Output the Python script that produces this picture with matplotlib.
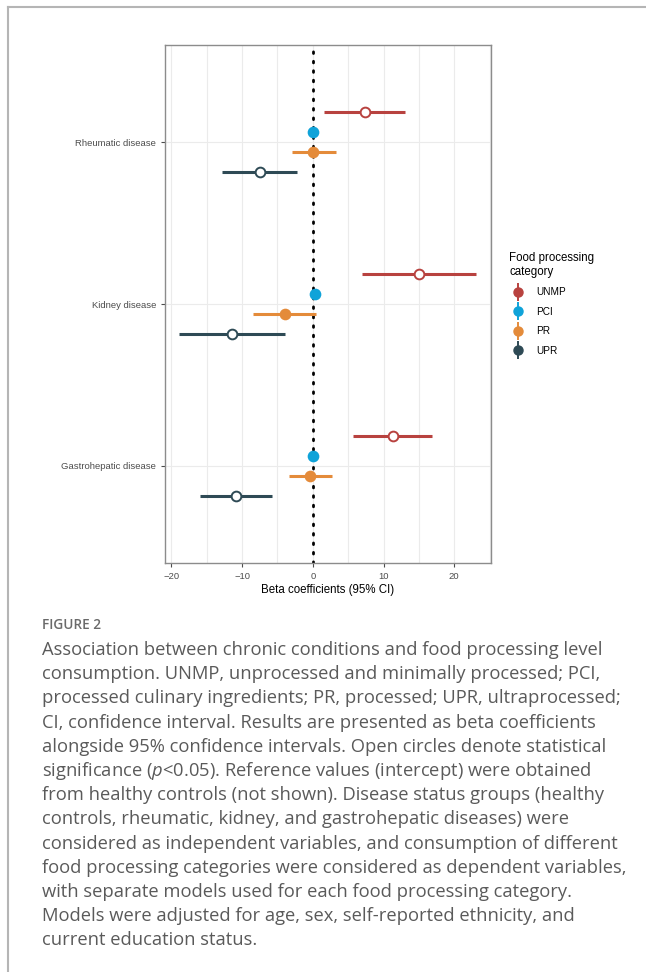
import numpy as np
import matplotlib.pyplot as plt
from matplotlib.lines import Line2D

plt.rcParams['font.family'] = ['Liberation Sans', 'DejaVu Sans']
plt.rcParams['mathtext.fontset'] = 'custom'
plt.rcParams['mathtext.it'] = 'Open Sans:italic'
plt.rcParams['mathtext.rm'] = 'Open Sans'

# data
diseases = ["Gastrohepatic disease", "Kidney disease", "Rheumatic disease"]
groups = ["UNMP", "PCI", "PR", "UPR"]
colors = ["#B8423F", "#0FA3D9", "#E48B3A", "#2E4A55"]

est = {
    "UNMP": [11.3, 15.0, 7.35],
    "PCI":  [0.0, 0.3, 0.05],
    "PR":   [-0.4, -4.0, 0.05],
    "UPR":  [-10.9, -11.4, -7.5],
}
lo = {
    "UNMP": [5.7, 7.0, 1.65],
    "PCI":  [-0.2, 0.1, -0.15],
    "PR":   [-3.4, -8.4, -3.0],
    "UPR":  [-15.9, -18.9, -12.8],
}
hi = {
    "UNMP": [16.8, 23.1, 13.05],
    "PCI":  [0.2, 0.5, 0.25],
    "PR":   [2.7, 0.5, 3.25],
    "UPR":  [-5.7, -4.0, -2.2],
}
# open circle = significant
signif = {"UNMP": True, "PCI": False, "PR": False, "UPR": True}
offsets = [0.1875, 0.0625, -0.0625, -0.1875]

W, H = 646, 972
fig = plt.figure(figsize=(W / 100, H / 100), dpi=100)

# frame lines of the figure panel
fig.add_artist(Line2D([8 / W, 1], [1 - 7 / H, 1 - 7 / H], color="#b5b5b5", lw=1.5))
fig.add_artist(Line2D([8 / W, 8 / W], [0, 1 - 7 / H], color="#b5b5b5", lw=1.5))

ax = fig.add_axes([165 / W, 1 - 563 / H, 326 / W, 518 / H])
ax.set_xlim(-20.9, 25.2)
ax.set_ylim(0.4, 3.6)

for x in np.arange(-20, 26, 5):
    ax.axvline(x, color="#ebebeb", lw=0.8, zorder=0)
for y in [1, 2, 3]:
    ax.axhline(y, color="#ebebeb", lw=0.8, zorder=0)

ax.axvline(0, color="black", lw=2, ls=(0, (0.6, 2.8)), dash_capstyle="round", zorder=1)

ypos = np.arange(1, len(diseases) + 1)
for g, c, off in zip(groups, colors, offsets):
    yy = ypos + off
    ax.hlines(yy, lo[g], hi[g], color=c, lw=2.2, zorder=2)
    face = "white" if signif[g] else c
    ax.plot(est[g], yy, "o", ms=7, mfc=face, mec=c, mew=1.4, ls="", zorder=3)

ax.set_yticks(ypos)
ax.set_yticklabels(diseases)
ax.set_xticks([-20, -10, 0, 10, 20])
ax.tick_params(axis="both", labelsize=6.8, colors="#4d4d4d", length=3, width=0.8)
for s in ax.spines.values():
    s.set_color("#8c8c8c")
    s.set_linewidth(1)
ax.set_xlabel("Beta coefficients (95% CI)", fontsize=8.3, labelpad=2)

handles = []
for g, c in zip(groups, colors):
    h = (Line2D([], [], marker="|", ms=13, mew=1.4, color=c, ls=""),
         Line2D([], [], marker="o", ms=6.5, color=c, ls=""))
    handles.append(h)
leg = fig.legend(handles, groups, title="Food processing\ncategory",
                 loc="upper left", bbox_to_anchor=(500 / W, 1 - 243 / H),
                 frameon=False, fontsize=7.2, title_fontsize=8.3,
                 handlelength=1.8, handletextpad=0.9, labelspacing=0.95,
                 alignment="left")

# caption
cap_font = ["Open Sans", "DejaVu Sans"]
fig.text(42 / W, 1 - 625 / H, "FIGURE 2", fontsize=9.8, fontweight="semibold",
         color="#6a6a6a", family=cap_font, va="center")
caption = [
    "Association between chronic conditions and food processing level",
    "consumption. UNMP, unprocessed and minimally processed; PCI,",
    "processed culinary ingredients; PR, processed; UPR, ultraprocessed;",
    "CI, confidence interval. Results are presented as beta coefficients",
    "alongside 95% confidence intervals. Open circles denote statistical",
    "significance ($\\it{p}$<0.05). Reference values (intercept) were obtained",
    "from healthy controls (not shown). Disease status groups (healthy",
    "controls, rheumatic, kidney, and gastrohepatic diseases) were",
    "considered as independent variables, and consumption of different",
    "food processing categories were considered as dependent variables,",
    "with separate models used for each food processing category.",
    "Models were adjusted for age, sex, self-reported ethnicity, and",
    "current education status.",
]
for i, line in enumerate(caption):
    fig.text(42 / W, 1 - (650 + i * 24.2) / H, line, fontsize=13.2,
             color="#5a5a5a", family=cap_font, va="center")

fig.savefig("out.png", dpi=100)
